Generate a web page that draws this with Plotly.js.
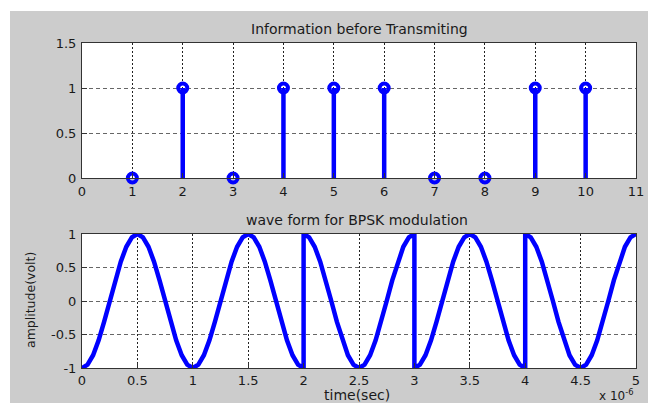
<!DOCTYPE html>
<html>
<head>
<meta charset="utf-8">
<script src="https://cdn.plot.ly/plotly-3.0.1.min.js"></script>
<style>
  html, body { margin: 0; padding: 0; background: #ffffff; overflow: hidden; }
  #chart { position: absolute; left: 10px; top: 11px; width: 638px; height: 392px; }
</style>
</head>
<body>
<div id="chart"></div>
<script>
// ---- Data: information bits ----
const bitIndex = [1, 2, 3, 4, 5, 6, 7, 8, 9, 10];
const bitValue = [0, 1, 0, 1, 1, 1, 0, 0, 1, 1];

// ---- Data: BPSK waveform (time in microseconds, amplitude in volts) ----
const timeUs = [
  0.00,0.05,0.10,0.15,0.20,0.25,0.30,0.35,0.40,0.45,0.50,0.55,0.60,0.65,0.70,0.75,0.80,0.85,0.90,0.95,1.00,
  1.05,1.10,1.15,1.20,1.25,1.30,1.35,1.40,1.45,1.50,1.55,1.60,1.65,1.70,1.75,1.80,1.85,1.90,1.95,2.00,
  2.00,2.05,2.10,2.15,2.20,2.25,2.30,2.35,2.40,2.45,2.50,2.55,2.60,2.65,2.70,2.75,2.80,2.85,2.90,2.95,3.00,
  3.00,3.05,3.10,3.15,3.20,3.25,3.30,3.35,3.40,3.45,3.50,3.55,3.60,3.65,3.70,3.75,3.80,3.85,3.90,3.95,4.00,
  4.00,4.05,4.10,4.15,4.20,4.25,4.30,4.35,4.40,4.45,4.50,4.55,4.60,4.65,4.70,4.75,4.80,4.85,4.90,4.95,5.00
];
const amplitude = [
  -1,-0.951,-0.809,-0.588,-0.309,0,0.309,0.588,0.809,0.951,1,0.951,0.809,0.588,0.309,0,-0.309,-0.588,-0.809,-0.951,-1,
  -0.951,-0.809,-0.588,-0.309,0,0.309,0.588,0.809,0.951,1,0.951,0.809,0.588,0.309,0,-0.309,-0.588,-0.809,-0.951,-1,
  1,0.951,0.809,0.588,0.309,0,-0.309,-0.588,-0.809,-0.951,-1,-0.951,-0.809,-0.588,-0.309,0,0.309,0.588,0.809,0.951,1,
  -1,-0.951,-0.809,-0.588,-0.309,0,0.309,0.588,0.809,0.951,1,0.951,0.809,0.588,0.309,0,-0.309,-0.588,-0.809,-0.951,-1,
  1,0.951,0.809,0.588,0.309,0,-0.309,-0.588,-0.809,-0.951,-1,-0.951,-0.809,-0.588,-0.309,0,0.309,0.588,0.809,0.951,1
];

// ---- Tick labels ----
const topXTicks = [0,1,2,3,4,5,6,7,8,9,10,11];
const topYTicks = [0, 0.5, 1, 1.5];
const topYTickText = ['0', '0.5', '1', '1.5'];
const botXTicks = [0, 0.5, 1, 1.5, 2, 2.5, 3, 3.5, 4, 4.5, 5];
const botXTickText = ['0','0.5','1','1.5','2','2.5','3','3.5','4','4.5','5'];
const botYTicks = [-1, -0.5, 0, 0.5, 1];
const botYTickText = ['-1','-0.5','0','0.5','1'];

// Build stem segments from data
const stemX = [], stemY = [];
bitIndex.forEach((x, i) => { stemX.push(x, x, null); stemY.push(0, bitValue[i], null); });

const BLUE = '#0000ff';
const FONT = 'DejaVu Sans, Arial, sans-serif';
const TXT = '#1a1a1a';

const traces = [
  { x: stemX, y: stemY, xaxis: 'x', yaxis: 'y', mode: 'lines',
    line: { color: BLUE, width: 4.5 }, hoverinfo: 'skip', showlegend: false, cliponaxis: false },
  { x: bitIndex, y: bitValue, xaxis: 'x', yaxis: 'y', mode: 'markers',
    marker: { symbol: 'circle-open', size: 9, color: BLUE, line: { color: BLUE, width: 4 } },
    showlegend: false, cliponaxis: false },
  { x: timeUs, y: amplitude, xaxis: 'x2', yaxis: 'y2', mode: 'lines',
    line: { color: BLUE, width: 4.5 }, showlegend: false, cliponaxis: false }
];

const axBase = {
  showline: true, mirror: true, linecolor: '#333333', linewidth: 1,
  ticks: 'inside', ticklen: 5, tickcolor: '#333333',
  showgrid: true, gridwidth: 1, zeroline: false,
  tickfont: { family: FONT, size: 13, color: TXT },
  fixedrange: true
};

const layout = {
  width: 638, height: 392,
  paper_bgcolor: '#cccccc', plot_bgcolor: '#ffffff',
  margin: { l: 72, r: 12, t: 32, b: 35 },
  showlegend: false,
  xaxis: Object.assign({}, axBase, {
    domain: [0, 1], anchor: 'y', range: [0, 11], tickmode: 'array', tickvals: topXTicks,
    gridcolor: '#222222', griddash: '2px,2px', ticklabelstandoff: 1
  }),
  yaxis: Object.assign({}, axBase, {
    domain: [0.5846, 1], anchor: 'x', range: [0, 1.5], tickmode: 'array',
    tickvals: topYTicks, ticktext: topYTickText,
    gridcolor: '#666666', griddash: '4px,3px', ticklabelstandoff: 2
  }),
  xaxis2: Object.assign({}, axBase, {
    domain: [0, 1], anchor: 'y2', range: [0, 5], tickmode: 'array',
    tickvals: botXTicks, ticktext: botXTickText,
    gridcolor: '#222222', griddash: '2px,2px', ticklabelstandoff: 0
  }),
  yaxis2: Object.assign({}, axBase, {
    domain: [0, 0.4123], anchor: 'x2', range: [-1, 1], tickmode: 'array',
    tickvals: botYTicks, ticktext: botYTickText,
    gridcolor: '#666666', griddash: '4px,3px', ticklabelstandoff: 2
  }),
  annotations: [
    { text: 'Information before Transmiting', xref: 'paper', yref: 'paper', x: 0.5, y: 1.043,
      showarrow: false, xanchor: 'center', yanchor: 'middle', font: { family: FONT, size: 14, color: TXT } },
    { text: 'wave form for BPSK modulation', xref: 'paper', yref: 'paper', x: 0.497, y: 0.455,
      showarrow: false, xanchor: 'center', yanchor: 'middle', font: { family: FONT, size: 14, color: TXT } },
    { text: 'amplitude(volt)', xref: 'paper', yref: 'paper', x: -0.094, y: 0.209, textangle: -90,
      showarrow: false, xanchor: 'center', yanchor: 'middle', font: { family: FONT, size: 12.5, color: TXT } },
    { text: 'time(sec)', xref: 'paper', yref: 'paper', x: 0.497, y: -0.083,
      showarrow: false, xanchor: 'center', yanchor: 'middle', font: { family: FONT, size: 14, color: TXT } },
    { text: 'x 10<sup>-6</sup>', xref: 'paper', yref: 'paper', x: 1.0, y: -0.083,
      showarrow: false, xanchor: 'right', yanchor: 'middle', font: { family: FONT, size: 12, color: TXT } }
  ]
};

Plotly.newPlot('chart', traces, layout, { displayModeBar: false, staticPlot: true });
</script>
</body>
</html>
